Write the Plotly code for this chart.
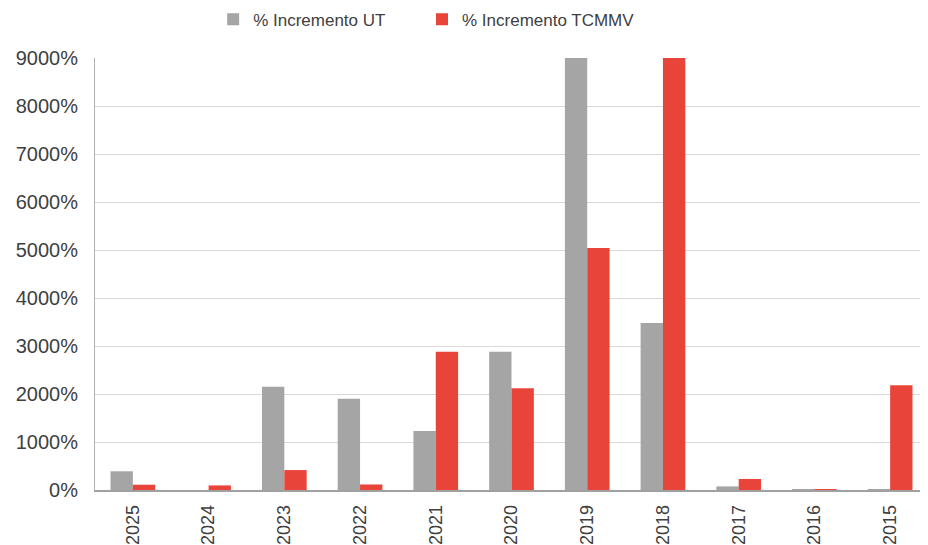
import plotly.graph_objects as go

years = ["2025", "2024", "2023", "2022", "2021", "2020", "2019", "2018", "2017", "2016", "2015"]
ut_values = [390, 0, 2150, 1900, 1230, 2880, 9000, 3480, 75, 20, 15]
tcmmv_values = [110, 95, 415, 115, 2880, 2120, 5040, 9000, 230, 20, 2180]
y_ticks = [0, 1000, 2000, 3000, 4000, 5000, 6000, 7000, 8000, 9000]
y_tick_labels = [f"{v}%" for v in y_ticks]

fig = go.Figure()
fig.add_trace(go.Bar(name="% Incremento UT", x=years, y=ut_values, legend="legend",
                     marker=dict(color="#a5a5a5", line=dict(width=0))))
fig.add_trace(go.Bar(name="% Incremento TCMMV", x=years, y=tcmmv_values, legend="legend2",
                     marker=dict(color="#e8443a", line=dict(width=0))))

legend_style = dict(orientation="h", xref="container", yref="container",
                    xanchor="left", y=0.978, yanchor="middle",
                    font=dict(size=17, color="#404040"), itemwidth=30,
                    bgcolor="rgba(0,0,0,0)")

# page body adds an 8px offset, so the figure is 920x537
fig.update_layout(
    width=920, height=537,
    margin=dict(l=87, r=0, t=50, b=55, autoexpand=False),
    paper_bgcolor="white", plot_bgcolor="white",
    barmode="group", bargap=0.41, bargroupgap=0,
    font=dict(family="Liberation Sans, Arial, sans-serif", color="#404040"),
    legend=dict(x=0.223, **legend_style),
    legend2=dict(x=0.45, **legend_style),
    showlegend=True,
)
fig.update_xaxes(type="category", showline=True, linecolor="#a0a0a0", linewidth=1.5,
                 tickangle=-90, tickfont=dict(size=18, color="#404040"),
                 ticks="", ticklabelstandoff=6, showgrid=False)
fig.update_yaxes(range=[0, 9000], tickvals=y_ticks, ticktext=y_tick_labels,
                 showgrid=True, gridcolor="#d9d9d9", gridwidth=1.2,
                 showline=True, linecolor="#b0b0b0", linewidth=1,
                 tickfont=dict(size=20, color="#404040"), ticks="",
                 ticklabelstandoff=12, zeroline=False)

fig.write_html("out.html")
